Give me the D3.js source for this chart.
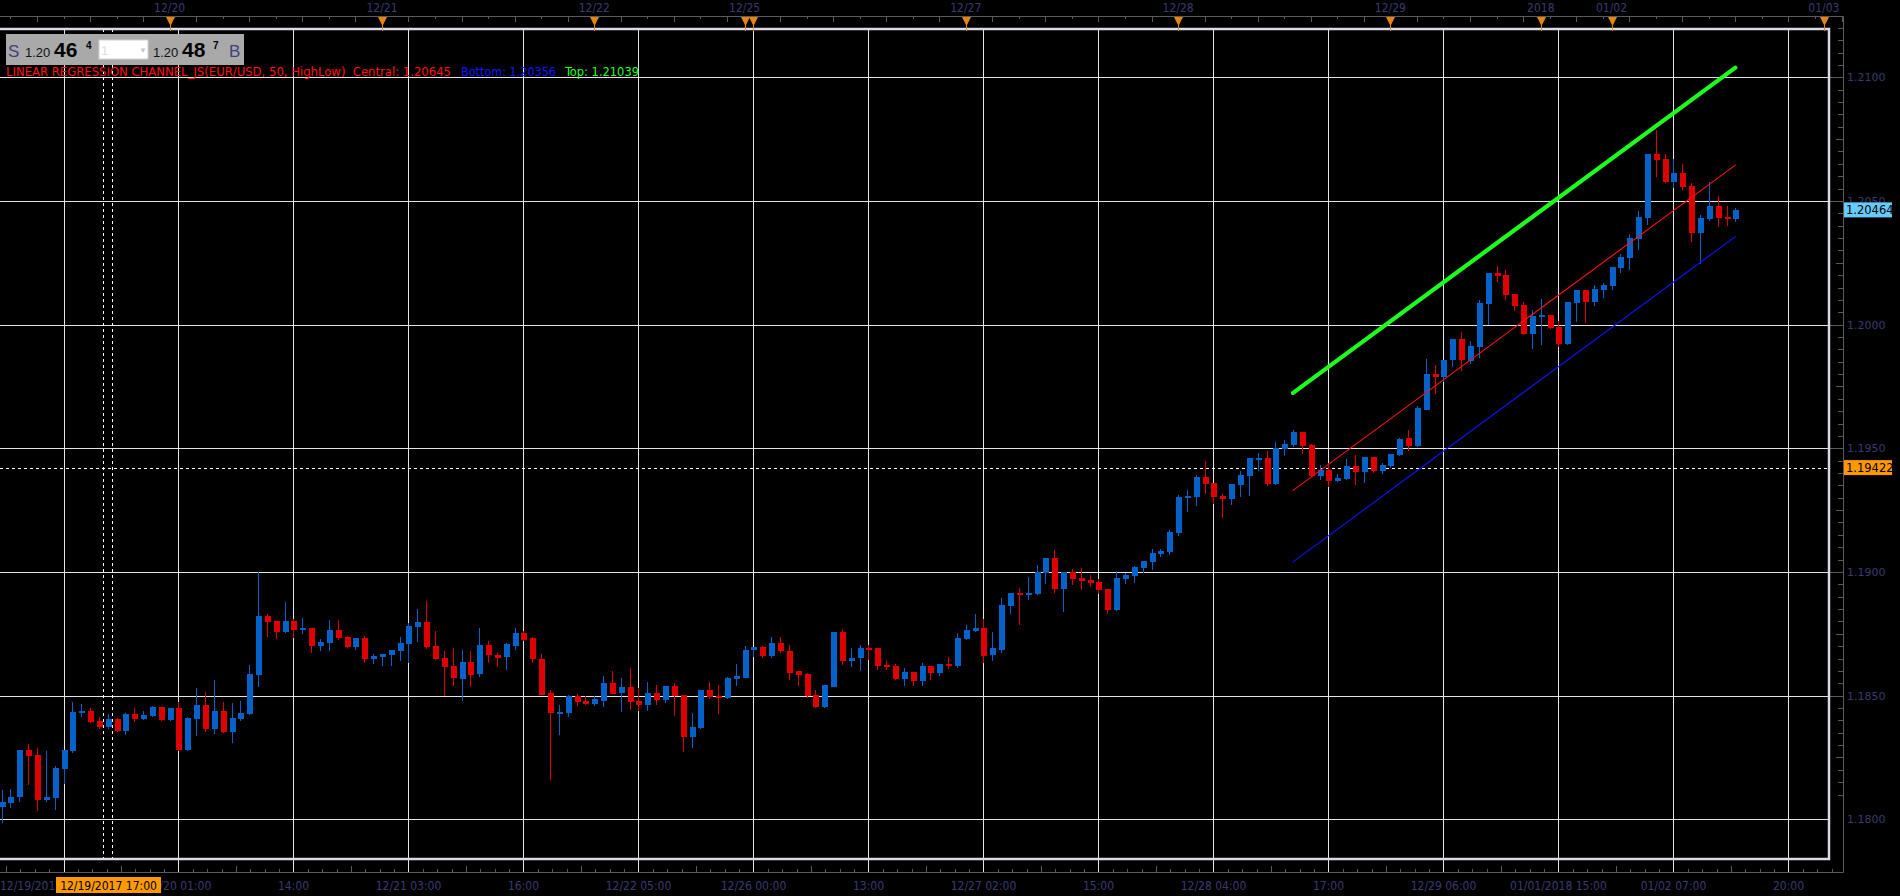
<!DOCTYPE html>
<html>
<head>
<meta charset="utf-8">
<script src="https://cdn.jsdelivr.net/npm/d3@7"></script>
<style>
body { margin: 0; background: #000; overflow: hidden; }
svg text { font-family: 'DejaVu Sans Condensed', 'DejaVu Sans', sans-serif; font-stretch: condensed; }
</style>
</head>
<body>
<svg id="chart" width="1900" height="896"></svg>
<script>
// EUR/USD hourly candles, 12/19/2017 05:00 .. 01/02/2018 14:00
var opens = [
	1.18051, 1.18067, 1.18087, 1.18279, 1.18259, 1.18078, 1.18086, 1.18203, 1.18275, 1.18428,
	1.18436, 1.18396, 1.18372, 1.18404, 1.18356, 1.18424, 1.18404, 1.18416, 1.18453, 1.18400,
	1.18448, 1.18279, 1.18404, 1.18461, 1.18364, 1.18436, 1.18352, 1.18404, 1.18424, 1.18582,
	1.18820, 1.18800, 1.18756, 1.18800, 1.18764, 1.18772, 1.18699, 1.18711, 1.18764, 1.18736,
	1.18695, 1.18731, 1.18647, 1.18655, 1.18663, 1.18679, 1.18707, 1.18776, 1.18796, 1.18699,
	1.18651, 1.18618, 1.18569, 1.18638, 1.18586, 1.18703, 1.18666, 1.18654, 1.18703, 1.18755,
	1.18731, 1.18650, 1.18509, 1.18428, 1.18428, 1.18497, 1.18477, 1.18465, 1.18481, 1.18553,
	1.18509, 1.18533, 1.18477, 1.18461, 1.18509, 1.18481, 1.18537, 1.18501, 1.18332, 1.18368,
	1.18521, 1.18497, 1.18489, 1.18566, 1.18574, 1.18682, 1.18695, 1.18658, 1.18711, 1.18682,
	1.18598, 1.18586, 1.18501, 1.18453, 1.18537, 1.18759, 1.18642, 1.18650, 1.18691, 1.18691,
	1.18622, 1.18618, 1.18566, 1.18594, 1.18557, 1.18618, 1.18590, 1.18626, 1.18622, 1.18731,
	1.18763, 1.18775, 1.18662, 1.18686, 1.18864, 1.18916, 1.18908, 1.18912, 1.18997, 1.19057,
	1.18932, 1.19001, 1.18977, 1.18969, 1.18961, 1.18932, 1.18848, 1.18973, 1.18985, 1.19017,
	1.19041, 1.19073, 1.19081, 1.19158, 1.19299, 1.19303, 1.19384, 1.19360, 1.19307, 1.19295,
	1.19352, 1.19388, 1.19456, 1.19461, 1.19356, 1.19497, 1.19513, 1.19565, 1.19513, 1.19388,
	1.19412, 1.19368, 1.19376, 1.19428, 1.19404, 1.19465, 1.19408, 1.19428, 1.19473, 1.19540,
	1.19509, 1.19657, 1.19802, 1.19790, 1.19855, 1.19940, 1.19855, 1.19911, 1.20084, 1.20209,
	1.20201, 1.20125, 1.20080, 1.19963, 1.20032, 1.20040, 1.19992, 1.19923, 1.20088, 1.20141,
	1.20093, 1.20141, 1.20157, 1.20230, 1.20270, 1.20347, 1.20431, 1.20690, 1.20669, 1.20576,
	1.20613, 1.20560, 1.20371, 1.20427, 1.20480, 1.20435, 1.20427
];
var highs = [
	1.18118, 1.18122, 1.18279, 1.18303, 1.18287, 1.18275, 1.18215, 1.18279, 1.18473, 1.18465,
	1.18448, 1.18412, 1.18424, 1.18408, 1.18428, 1.18448, 1.18436, 1.18457, 1.18453, 1.18448,
	1.18473, 1.18412, 1.18529, 1.18513, 1.18565, 1.18473, 1.18469, 1.18477, 1.18622, 1.19000,
	1.18831, 1.18800, 1.18877, 1.18808, 1.18812, 1.18772, 1.18727, 1.18804, 1.18804, 1.18740,
	1.18731, 1.18740, 1.18667, 1.18667, 1.18683, 1.18736, 1.18792, 1.18852, 1.18881, 1.18760,
	1.18679, 1.18694, 1.18686, 1.18682, 1.18775, 1.18719, 1.18674, 1.18711, 1.18775, 1.18763,
	1.18739, 1.18670, 1.18521, 1.18461, 1.18501, 1.18505, 1.18497, 1.18497, 1.18578, 1.18598,
	1.18570, 1.18610, 1.18529, 1.18557, 1.18541, 1.18537, 1.18553, 1.18501, 1.18428, 1.18521,
	1.18557, 1.18545, 1.18574, 1.18626, 1.18699, 1.18695, 1.18699, 1.18739, 1.18739, 1.18703,
	1.18598, 1.18590, 1.18521, 1.18541, 1.18759, 1.18771, 1.18691, 1.18703, 1.18703, 1.18691,
	1.18646, 1.18626, 1.18610, 1.18594, 1.18630, 1.18618, 1.18626, 1.18658, 1.18755, 1.18787,
	1.18832, 1.18811, 1.18759, 1.18896, 1.18916, 1.18937, 1.18981, 1.19029, 1.19057, 1.19090,
	1.19001, 1.19013, 1.19017, 1.18989, 1.18973, 1.18932, 1.19005, 1.18997, 1.19025, 1.19045,
	1.19094, 1.19094, 1.19170, 1.19311, 1.19331, 1.19392, 1.19448, 1.19360, 1.19315, 1.19356,
	1.19408, 1.19461, 1.19481, 1.19489, 1.19525, 1.19535, 1.19574, 1.19565, 1.19517, 1.19432,
	1.19440, 1.19396, 1.19456, 1.19473, 1.19465, 1.19465, 1.19440, 1.19477, 1.19540, 1.19572,
	1.19673, 1.19863, 1.19838, 1.19859, 1.19940, 1.19972, 1.19935, 1.20101, 1.20209, 1.20238,
	1.20222, 1.20125, 1.20093, 1.20060, 1.20105, 1.20040, 1.20016, 1.20093, 1.20141, 1.20141,
	1.20161, 1.20169, 1.20234, 1.20286, 1.20367, 1.20460, 1.20690, 1.20786, 1.20690, 1.20669,
	1.20649, 1.20572, 1.20443, 1.20576, 1.20520, 1.20480, 1.20472
];
var lows = [
	1.17990, 1.18049, 1.18074, 1.18142, 1.18037, 1.18074, 1.18041, 1.18146, 1.18271, 1.18416,
	1.18392, 1.18368, 1.18368, 1.18356, 1.18344, 1.18396, 1.18404, 1.18416, 1.18400, 1.18400,
	1.18279, 1.18279, 1.18340, 1.18356, 1.18348, 1.18352, 1.18311, 1.18400, 1.18424, 1.18538,
	1.18740, 1.18731, 1.18756, 1.18736, 1.18752, 1.18675, 1.18683, 1.18683, 1.18727, 1.18695,
	1.18687, 1.18635, 1.18631, 1.18623, 1.18623, 1.18643, 1.18635, 1.18719, 1.18691, 1.18647,
	1.18502, 1.18541, 1.18481, 1.18537, 1.18578, 1.18638, 1.18618, 1.18606, 1.18690, 1.18723,
	1.18634, 1.18505, 1.18162, 1.18344, 1.18416, 1.18461, 1.18465, 1.18461, 1.18457, 1.18509,
	1.18436, 1.18445, 1.18441, 1.18441, 1.18465, 1.18473, 1.18420, 1.18275, 1.18291, 1.18368,
	1.18489, 1.18428, 1.18489, 1.18545, 1.18574, 1.18662, 1.18658, 1.18658, 1.18678, 1.18566,
	1.18545, 1.18493, 1.18453, 1.18453, 1.18537, 1.18626, 1.18618, 1.18602, 1.18650, 1.18606,
	1.18606, 1.18566, 1.18545, 1.18545, 1.18541, 1.18566, 1.18582, 1.18610, 1.18614, 1.18727,
	1.18763, 1.18634, 1.18646, 1.18678, 1.18836, 1.18791, 1.18892, 1.18912, 1.18957, 1.18920,
	1.18844, 1.18953, 1.18932, 1.18945, 1.18916, 1.18836, 1.18848, 1.18956, 1.18961, 1.19001,
	1.19013, 1.19065, 1.19073, 1.19150, 1.19247, 1.19271, 1.19319, 1.19279, 1.19223, 1.19275,
	1.19307, 1.19311, 1.19412, 1.19352, 1.19356, 1.19473, 1.19509, 1.19481, 1.19388, 1.19376,
	1.19348, 1.19368, 1.19376, 1.19356, 1.19364, 1.19404, 1.19400, 1.19424, 1.19473, 1.19495,
	1.19509, 1.19657, 1.19722, 1.19774, 1.19834, 1.19818, 1.19843, 1.19871, 1.20004, 1.20177,
	1.20105, 1.20060, 1.19963, 1.19907, 1.19923, 1.19988, 1.19915, 1.19923, 1.20016, 1.20012,
	1.20080, 1.20113, 1.20145, 1.20213, 1.20226, 1.20306, 1.20407, 1.20601, 1.20576, 1.20556,
	1.20548, 1.20339, 1.20250, 1.20423, 1.20399, 1.20403, 1.20419
];
var closes = [
	1.18071, 1.18090, 1.18279, 1.18256, 1.18078, 1.18090, 1.18207, 1.18279, 1.18432, 1.18436,
	1.18392, 1.18372, 1.18404, 1.18356, 1.18424, 1.18404, 1.18420, 1.18453, 1.18400, 1.18448,
	1.18279, 1.18408, 1.18461, 1.18364, 1.18436, 1.18352, 1.18408, 1.18428, 1.18586, 1.18820,
	1.18796, 1.18756, 1.18800, 1.18764, 1.18772, 1.18699, 1.18715, 1.18764, 1.18731, 1.18695,
	1.18731, 1.18647, 1.18659, 1.18667, 1.18683, 1.18711, 1.18780, 1.18796, 1.18695, 1.18647,
	1.18615, 1.18569, 1.18638, 1.18586, 1.18703, 1.18662, 1.18654, 1.18707, 1.18755, 1.18727,
	1.18646, 1.18505, 1.18428, 1.18432, 1.18497, 1.18473, 1.18465, 1.18485, 1.18553, 1.18509,
	1.18533, 1.18473, 1.18461, 1.18509, 1.18481, 1.18537, 1.18497, 1.18332, 1.18372, 1.18521,
	1.18493, 1.18489, 1.18570, 1.18578, 1.18686, 1.18695, 1.18658, 1.18711, 1.18678, 1.18594,
	1.18582, 1.18497, 1.18453, 1.18541, 1.18759, 1.18642, 1.18654, 1.18691, 1.18686, 1.18618,
	1.18614, 1.18566, 1.18594, 1.18557, 1.18618, 1.18590, 1.18626, 1.18622, 1.18735, 1.18767,
	1.18775, 1.18662, 1.18691, 1.18868, 1.18916, 1.18908, 1.18916, 1.19001, 1.19057, 1.18932,
	1.19001, 1.18973, 1.18965, 1.18957, 1.18928, 1.18848, 1.18977, 1.18989, 1.19021, 1.19045,
	1.19077, 1.19085, 1.19162, 1.19303, 1.19307, 1.19384, 1.19356, 1.19303, 1.19295, 1.19356,
	1.19392, 1.19461, 1.19461, 1.19356, 1.19501, 1.19519, 1.19566, 1.19509, 1.19388, 1.19412,
	1.19368, 1.19380, 1.19428, 1.19404, 1.19465, 1.19408, 1.19432, 1.19477, 1.19539, 1.19509,
	1.19661, 1.19802, 1.19790, 1.19859, 1.19940, 1.19855, 1.19915, 1.20088, 1.20209, 1.20197,
	1.20121, 1.20076, 1.19963, 1.20036, 1.20040, 1.19988, 1.19923, 1.20093, 1.20141, 1.20093,
	1.20145, 1.20161, 1.20234, 1.20274, 1.20351, 1.20435, 1.20690, 1.20665, 1.20576, 1.20613,
	1.20556, 1.20371, 1.20431, 1.20480, 1.20431, 1.20427, 1.20463
];

// Bottom axis: candle index of each grid line and its label
var gridIdx = [7, 20, 33, 46, 59, 72, 85, 98, 111, 124, 137, 150, 163, 176, 189, 202];
var gridLabels = ["12/19/2017 12:00", "12/20 01:00", "14:00", "12/21 03:00", "16:00", "12/22 05:00",
	"12/26 00:00", "13:00", "12/27 02:00", "15:00", "12/28 04:00", "17:00", "12/29 06:00",
	"01/01/2018 15:00", "01/02 07:00", "20:00"];

// Top axis: day separators
var dayIdx = [19, 43, 67, 84, 85, 109, 133, 157, 174, 182, 206];
var dayLabels = ["12/20", "12/21", "12/22", "12/25", "", "12/27", "12/28", "12/29", "2018", "01/02", "01/03"];

// Price grid
var priceTicks = [1.180, 1.185, 1.190, 1.195, 1.200, 1.205, 1.210];
var priceLabels = ["1.1800", "1.1850", "1.1900", "1.1950", "1.2000", "1.2050", "1.2100"];

// Linear regression channel (50 periods) end points
var channelIdx = [146, 196];
var channelCentral = [1.19330, 1.20645];
var channelBottom = [1.19041, 1.20356];
var channelTop = [1.19724, 1.21039];

// Crosshair and last price
var crossIdx = 12;
var crossLabel = "12/19/2017 17:00";
var crossPrice = 1.19422;
var lastPrice = 1.20464;

// Set chart geometry
var plot = { left: 0, right: 1829, top: 29, bottom: 859 };
var axisTopY = 16, axisBottomY = 872, axisRightX = 1843;
var textCol = "#3a3a70";
var gridCol = "#e4e4e4";
var upCol = "#0462c8", downCol = "#de0000";

var x = d3.scaleLinear().domain([0, 206]).range([1.58, 1823.85]);
var y = d3.scaleLinear().domain([1.18, 1.21]).range([819.3, 77.3]);

var candles = opens.map(function (o, i) {
	return { i: i, o: o, h: highs[i], l: lows[i], c: closes[i] };
});

var svg = d3.select("#chart");
svg.append("rect").attr("width", 1900).attr("height", 896).attr("fill", "#000");

function px(v) { return Math.round(v) + 0.5; }

// Axis frame lines
svg.append("path")
	.attr("d", "M0," + (axisTopY + 0.5) + "H" + (axisRightX + 0.5) + "V" + (axisBottomY + 0.5) + "H0")
	.attr("fill", "none").attr("stroke", "#5a5a5a").attr("stroke-width", 1);

// Top axis small ticks (every 3 hours)
var topTicks = d3.range(1, 209, 3);
svg.append("g").selectAll("line").data(topTicks).enter().append("line")
	.attr("x1", function (d) { return px(x(d)); })
	.attr("x2", function (d) { return px(x(d)); })
	.attr("y1", axisTopY)
	.attr("y2", function (d) { return axisTopY + ((d - 4) % 6 === 0 ? 6 : 3); })
	.attr("stroke", "#5a5a5a");

// Bottom axis small ticks (8 per grid step)
var botTicks = d3.range(-4, 124);
svg.append("g").selectAll("line").data(botTicks).enter().append("line")
	.attr("x1", function (d) { return px(x(7 + d * 13 / 8)); })
	.attr("x2", function (d) { return px(x(7 + d * 13 / 8)); })
	.attr("y1", axisBottomY)
	.attr("y2", function (d) { return axisBottomY - ((d % 8 + 8) % 8 === 4 ? 6 : 3); })
	.attr("stroke", "#5a5a5a");

// Right axis ticks
var minorPrices = d3.range(2362, 2425).map(function (k) { return k * 0.0005; });
svg.append("g").selectAll("line").data(minorPrices).enter().append("line")
	.attr("y1", function (d) { return px(y(d)); })
	.attr("y2", function (d) { return px(y(d)); })
	.attr("x1", function (d) {
		var k = Math.round(d / 0.0005);
		if (k % 10 === 0) return plot.right;
		return axisRightX - (k % 5 === 0 ? 7 : 5);
	})
	.attr("x2", axisRightX)
	.attr("stroke", "#5a5a5a");

// Horizontal grid
svg.append("g").selectAll("line").data(priceTicks).enter().append("line")
	.attr("x1", plot.left).attr("x2", plot.right)
	.attr("y1", function (d) { return px(y(d)); })
	.attr("y2", function (d) { return px(y(d)); })
	.attr("stroke", gridCol).attr("stroke-width", 1);

// Vertical grid (runs down through the bottom tick strip)
svg.append("g").selectAll("line").data(gridIdx).enter().append("line")
	.attr("x1", function (d) { return px(x(d)); })
	.attr("x2", function (d) { return px(x(d)); })
	.attr("y1", plot.top).attr("y2", axisBottomY)
	.attr("stroke", gridCol).attr("stroke-width", 1);

// Crosshair dashed lines
svg.append("g").selectAll("line").data([crossIdx - 0.5, crossIdx + 0.5]).enter().append("line")
	.attr("x1", function (d) { return px(x(d)); })
	.attr("x2", function (d) { return px(x(d)); })
	.attr("y1", plot.top).attr("y2", plot.bottom)
	.attr("stroke", "#ffffff").attr("stroke-dasharray", "3,3");
svg.append("line")
	.attr("x1", plot.left).attr("x2", plot.right)
	.attr("y1", px(y(crossPrice))).attr("y2", px(y(crossPrice)))
	.attr("stroke", "#ffffff").attr("stroke-dasharray", "3,3");

// Candles
var cg = svg.append("g").attr("shape-rendering", "crispEdges");
cg.selectAll("line").data(candles).enter().append("line")
	.attr("x1", function (d) { return px(x(d.i)); })
	.attr("x2", function (d) { return px(x(d.i)); })
	.attr("y1", function (d) { return Math.round(y(d.h)); })
	.attr("y2", function (d) { return Math.round(y(d.l)) + 1; })
	.attr("stroke", function (d) { return d.c >= d.o ? upCol : downCol; })
	.attr("stroke-width", 1);
cg.selectAll("rect").data(candles).enter().append("rect")
	.attr("x", function (d) { return Math.round(x(d.i)) - 2; })
	.attr("width", 6)
	.attr("y", function (d) { return Math.round(y(Math.max(d.o, d.c))); })
	.attr("height", function (d) { return Math.max(2, Math.round(Math.abs(y(d.o) - y(d.c)))); })
	.attr("fill", function (d) { return d.c >= d.o ? upCol : downCol; });

// Regression channel
function chan(vals, col, w) {
	svg.append("line")
		.attr("x1", x(channelIdx[0])).attr("y1", y(vals[0]))
		.attr("x2", x(channelIdx[1])).attr("y2", y(vals[1]))
		.attr("stroke", col).attr("stroke-width", w).attr("stroke-linecap", "round");
}
chan(channelCentral, "#ff1010", 1.1);
chan(channelBottom, "#1010ff", 1.1);
chan(channelTop, "#1eff1e", 4.2);

// Plot border (top, bottom, right)
svg.append("path")
	.attr("d", "M" + plot.left + "," + plot.top + "H" + plot.right + "V" + plot.bottom + "H" + plot.left)
	.attr("fill", "none").attr("stroke", "#dadae4").attr("stroke-width", 2.5);

// Day markers on top axis
var dm = svg.append("g").selectAll("g").data(dayIdx).enter().append("g")
	.attr("transform", function (d) { return "translate(" + Math.round(x(d)) + ",0)"; });
dm.append("line").attr("x1", 0.5).attr("x2", 0.5).attr("y1", 20).attr("y2", plot.top + 2)
	.attr("stroke", "#e8860c");
dm.append("path").attr("d", "M-4," + (axisTopY + 1) + "L5," + (axisTopY + 1) + "L0.5,26Z")
	.attr("fill", "#e8860c");
svg.append("g").selectAll("text").data(dayIdx).enter().append("text")
	.attr("x", function (d) { return x(d); })
	.attr("y", 12)
	.attr("text-anchor", "middle")
	.attr("font-size", 12)
	.attr("fill", textCol)
	.text(function (d, i) { return dayLabels[i]; });

// Bottom time labels; the first one is partly hidden by the crosshair tag
var tagLeft = Math.round(x(crossIdx)) - 52;
svg.append("clipPath").attr("id", "firstLabelClip")
	.append("rect").attr("x", 0).attr("y", 874).attr("width", tagLeft).attr("height", 22);
svg.append("g").selectAll("text").data(gridIdx).enter().append("text")
	.attr("x", function (d, i) { return i === 0 ? 0 : x(d); })
	.attr("y", 890)
	.attr("text-anchor", function (d, i) { return i === 0 ? "start" : "middle"; })
	.attr("clip-path", function (d, i) { return i === 0 ? "url(#firstLabelClip)" : null; })
	.attr("font-size", 12)
	.attr("fill", textCol)
	.text(function (d, i) { return gridLabels[i]; });

// Crosshair time tag
var ct = svg.append("g").attr("transform", "translate(" + Math.round(x(crossIdx)) + ",0)");
ct.append("rect").attr("x", -52).attr("y", 877).attr("width", 105).attr("height", 16).attr("fill", "#ff9900");
ct.append("text").attr("x", 0.5).attr("y", 890).attr("text-anchor", "middle")
	.attr("font-size", 12).attr("fill", "#000").text(crossLabel);

// Price labels on right axis
svg.append("g").selectAll("text").data(priceTicks).enter().append("text")
	.attr("x", axisRightX + 4)
	.attr("y", function (d) { return y(d) + 4; })
	.attr("font-size", 11)
	.attr("fill", textCol)
	.style("font-family", "'DejaVu Sans', sans-serif")
	.style("font-stretch", "normal")
	.text(function (d, i) { return priceLabels[i]; });

// Price tags
function priceTag(v, bg) {
	var g = svg.append("g").attr("transform", "translate(" + (axisRightX + 1) + "," + y(v) + ")");
	g.append("rect").attr("x", 0).attr("y", -7.5).attr("width", 48).attr("height", 15).attr("fill", bg);
	g.append("text").attr("x", 2).attr("y", 4.5).attr("font-size", 11.5).attr("fill", "#000")
		.style("font-family", "'DejaVu Sans', sans-serif").style("font-stretch", "normal")
		.text(d3.format(".5f")(v));
}
priceTag(lastPrice, "#66ccff");
priceTag(crossPrice, "#ff9900");

// Quote box (sell / buy)
var q = svg.append("g");
q.append("rect").attr("x", 6).attr("y", 34).attr("width", 238).attr("height", 31).attr("fill", "#a9a9a9");
function qt(tx, ty, size, weight, col, s) {
	q.append("text").attr("x", tx).attr("y", ty).attr("font-size", size)
		.attr("font-weight", weight).attr("fill", col)
		.style("font-family", "'Liberation Sans', Arial, sans-serif").style("font-stretch", "normal")
		.text(s);
}
qt(8, 57, 17, "normal", "#40407c", "S");
qt(25, 57, 13, "normal", "#111", "1.20");
qt(54, 57, 21, "bold", "#000", "46");
qt(86, 49, 10, "bold", "#000", "4");
q.append("rect").attr("x", 99).attr("y", 40).attr("width", 49).attr("height", 19)
	.attr("fill", "#fff").attr("stroke", "#d0d0d0");
qt(101, 55, 13, "normal", "#dcdcdc", "1");
qt(139, 53, 8, "normal", "#c8c8c8", "\u25BC");
qt(153, 57, 13, "normal", "#111", "1.20");
qt(182, 57, 21, "bold", "#000", "48");
qt(213, 49, 10, "bold", "#000", "7");
qt(229, 57, 17, "normal", "#40407c", "B");

// Indicator legend
var leg = [
	{ s: "LINEAR REGRESSION CHANNEL_JS(EUR/USD, 50, HighLow)  Central: 1.20645", x0: 6, w: 445, c: "#ff1010" },
	{ s: "Bottom: 1.20356", x0: 461, w: 95, c: "#1515ff" },
	{ s: "Top: 1.21039", x0: 565, w: 74, c: "#22ff22" }
];
svg.append("g").selectAll("text").data(leg).enter().append("text")
	.attr("x", function (d) { return d.x0; })
	.attr("y", 76)
	.attr("font-size", 12)
	.attr("fill", function (d) { return d.c; })
	.attr("textLength", function (d) { return d.w; })
	.attr("lengthAdjust", "spacingAndGlyphs")
	.style("white-space", "pre")
	.text(function (d) { return d.s; });
</script>
</body>
</html>
